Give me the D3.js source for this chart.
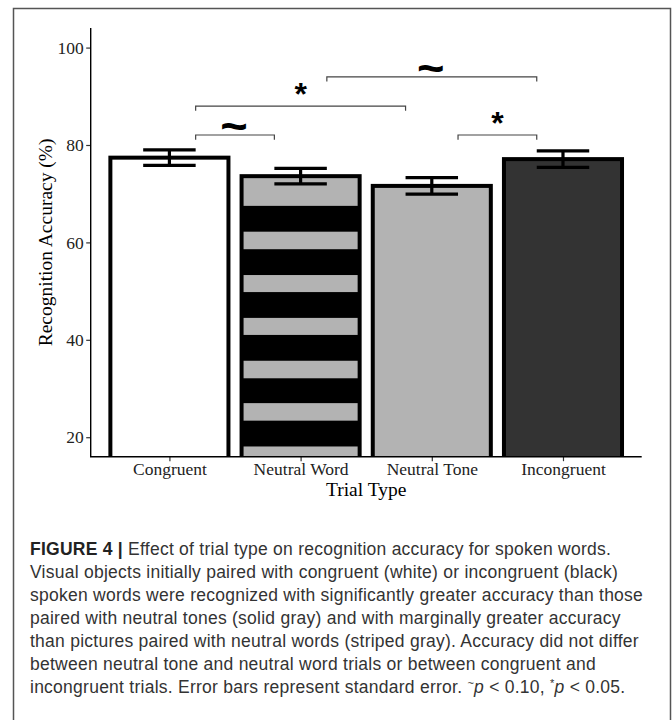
<!DOCTYPE html>
<html>
<head>
<meta charset="utf-8">
<script src="https://cdn.jsdelivr.net/npm/d3@7"></script>
<style>
  body { margin: 0; background: #fff; }
  svg { display: block; }
  .tick text { font-family: "Liberation Serif", "Times New Roman", serif; font-size: 17.5px; fill: #222; }
  .caption { font-family: "Liberation Sans", Arial, sans-serif; font-size: 17.5px; letter-spacing: 0.25px; fill: #333; }
</style>
</head>
<body>
<div id="chart"></div>
<script>
// data
var trialTypes = ["Congruent", "Neutral Word", "Neutral Tone", "Incongruent"];
var accuracy = [77.4, 73.6, 71.6, 77.1];
var stdError = [1.6, 1.6, 1.7, 1.7];
var yTicks = [20, 40, 60, 80, 100];

// black bands of the striped "Neutral Word" bar (accuracy units)
var stripeLow = [18.1, 27.0, 35.7, 44.5, 53.3, 62.2];
var stripeHigh = [23.4, 32.1, 41.0, 49.8, 58.6, 67.5];

// significance brackets
var bracketFrom = [0, 0, 1, 2];
var bracketTo = [1, 2, 3, 3];
var bracketAt = [82.05, 88.0, 94.0, 82.05];
var bracketMark = ["~", "*", "~", "*"];

var barFill = ["#ffffff", "#b3b3b3", "#b3b3b3", "#333333"];

var captionLines = [
  "Visual objects initially paired with congruent (white) or incongruent (black)",
  "spoken words were recognized with significantly greater accuracy than those",
  "paired with neutral tones (solid gray) and with marginally greater accuracy",
  "than pictures paired with neutral words (striped gray). Accuracy did not differ",
  "between neutral tone and neutral word trials or between congruent and"
];

var svgWidth = 672;
var svgHeight = 720;
var plot = { left: 90.7, right: 641.7, top: 28.1, bottom: 456.7 };

var svg = d3.select("#chart")
  .append("svg")
  .attr("width", svgWidth)
  .attr("height", svgHeight);

svg.append("rect")
  .attr("width", svgWidth)
  .attr("height", svgHeight)
  .attr("fill", "#fff");

// figure frame
svg.append("rect")
  .attr("x", 13.5)
  .attr("y", 8.5)
  .attr("width", 657)
  .attr("height", 730)
  .attr("fill", "none")
  .attr("stroke", "#555")
  .attr("stroke-width", 1.5);

var x = d3.scalePoint()
  .domain(trialTypes)
  .range([plot.left, plot.right])
  .padding(0.6);

var step = x.step();
var barWidth = step * 0.9;

var y = d3.scaleLinear()
  .domain([16, 104])
  .range([plot.bottom, plot.top]);

svg.append("clipPath")
  .attr("id", "panel")
  .append("rect")
  .attr("x", plot.left)
  .attr("y", plot.top)
  .attr("width", plot.right - plot.left)
  .attr("height", plot.bottom - plot.top);

var chartGroup = svg.append("g").attr("clip-path", "url(#panel)");

// bar fills
chartGroup.selectAll(".bar-fill")
  .data(trialTypes)
  .enter()
  .append("rect")
  .attr("class", "bar-fill")
  .attr("x", d => x(d) - barWidth / 2)
  .attr("y", (d, i) => y(accuracy[i]))
  .attr("width", barWidth)
  .attr("height", (d, i) => y(0) - y(accuracy[i]))
  .attr("fill", (d, i) => barFill[i]);

// stripes on Neutral Word
chartGroup.selectAll(".stripe")
  .data(stripeLow)
  .enter()
  .append("rect")
  .attr("class", "stripe")
  .attr("x", x("Neutral Word") - barWidth / 2)
  .attr("y", (d, i) => y(stripeHigh[i]))
  .attr("width", barWidth)
  .attr("height", (d, i) => y(d) - y(stripeHigh[i]))
  .attr("fill", "#000");

// bar outlines
chartGroup.selectAll(".bar-edge")
  .data(trialTypes)
  .enter()
  .append("rect")
  .attr("class", "bar-edge")
  .attr("x", d => x(d) - barWidth / 2)
  .attr("y", (d, i) => y(accuracy[i]))
  .attr("width", barWidth)
  .attr("height", (d, i) => y(0) - y(accuracy[i]))
  .attr("fill", "none")
  .attr("stroke", "#000")
  .attr("stroke-width", 4);

// error bars
var capHalf = step * 0.2;
var errGroup = svg.append("g")
  .attr("stroke", "#000")
  .attr("stroke-width", 3.2)
  .attr("fill", "none");

trialTypes.forEach(function(d, i) {
  var cx = x(d);
  var lo = y(accuracy[i] - stdError[i]);
  var hi = y(accuracy[i] + stdError[i]);
  errGroup.append("path")
    .attr("d", `M${cx - capHalf},${hi}H${cx + capHalf}M${cx},${hi}V${lo}M${cx - capHalf},${lo}H${cx + capHalf}`);
});

// significance brackets
var sigGroup = svg.append("g");
bracketFrom.forEach(function(f, i) {
  var x1 = x(trialTypes[f]) + capHalf;
  var x2 = x(trialTypes[bracketTo[i]]) - capHalf;
  var yy = y(bracketAt[i]);
  var tip = y(bracketAt[i] - 0.95);
  sigGroup.append("path")
    .attr("d", `M${x1},${tip}V${yy}H${x2}V${tip}`)
    .attr("fill", "none")
    .attr("stroke", "#444")
    .attr("stroke-width", 1.2);
  var isTilde = bracketMark[i] === "~";
  sigGroup.append("text")
    .attr("x", (x1 + x2) / 2 - (isTilde ? 1 : 0))
    .attr("y", yy + (isTilde ? 7 : -1.5))
    .attr("text-anchor", "middle")
    .style("font-family", "'Liberation Sans', Arial, sans-serif")
    .style("font-weight", "bold")
    .style("font-size", isTilde ? "47px" : "32px")
    .text(bracketMark[i]);
});

// axes
var leftAxis = d3.axisLeft(y).tickValues(yTicks).tickSize(4.5).tickPadding(2.5);
var bottomAxis = d3.axisBottom(x).tickSize(4.5).tickPadding(1.5);

var yAxis = svg.append("g")
  .attr("transform", `translate(${plot.left},0)`)
  .call(leftAxis);

var xAxis = svg.append("g")
  .attr("transform", `translate(0,${plot.bottom})`)
  .call(bottomAxis);

[yAxis, xAxis].forEach(function(ax) {
  ax.select(".domain").remove();
  ax.selectAll(".tick line").attr("stroke", "#333").attr("stroke-width", 1.2);
});

svg.append("path")
  .attr("d", `M${plot.left},${plot.top}V${plot.bottom}H${plot.right}`)
  .attr("fill", "none")
  .attr("stroke", "#000")
  .attr("stroke-width", 1.4);

// axis titles
svg.append("text")
  .attr("transform", `translate(51.5,${(plot.top + plot.bottom) / 2}) rotate(-90)`)
  .attr("text-anchor", "middle")
  .style("font-family", "'Liberation Serif', 'Times New Roman', serif")
  .style("font-size", "19.5px")
  .attr("fill", "#000")
  .text("Recognition Accuracy (%)");

svg.append("text")
  .attr("x", (plot.left + plot.right) / 2)
  .attr("y", 496)
  .attr("text-anchor", "middle")
  .style("font-family", "'Liberation Serif', 'Times New Roman', serif")
  .style("font-size", "19.5px")
  .attr("fill", "#000")
  .text("Trial Type");

// caption
var capX = 30;
var capY = 555;
var lineGap = 23;

var first = svg.append("text").attr("class", "caption").attr("x", capX).attr("y", capY);
first.append("tspan").style("font-weight", "bold").attr("fill", "#222").text("FIGURE 4 |");
first.append("tspan").text(" Effect of trial type on recognition accuracy for spoken words.");

captionLines.forEach(function(line, i) {
  svg.append("text")
    .attr("class", "caption")
    .attr("x", capX)
    .attr("y", capY + lineGap * (i + 1))
    .text(line);
});

var last = svg.append("text").attr("class", "caption").attr("x", capX).attr("y", capY + lineGap * 6);
last.append("tspan").text("incongruent trials. Error bars represent standard error. ");
last.append("tspan").attr("dy", -6).style("font-size", "11px").text("~");
last.append("tspan").attr("dy", 6).style("font-style", "italic").text("p");
last.append("tspan").text(" < 0.10, ");
last.append("tspan").attr("dy", -6).style("font-size", "11px").text("*");
last.append("tspan").attr("dy", 6).style("font-style", "italic").text("p");
last.append("tspan").text(" < 0.05.");
</script>
</body>
</html>
